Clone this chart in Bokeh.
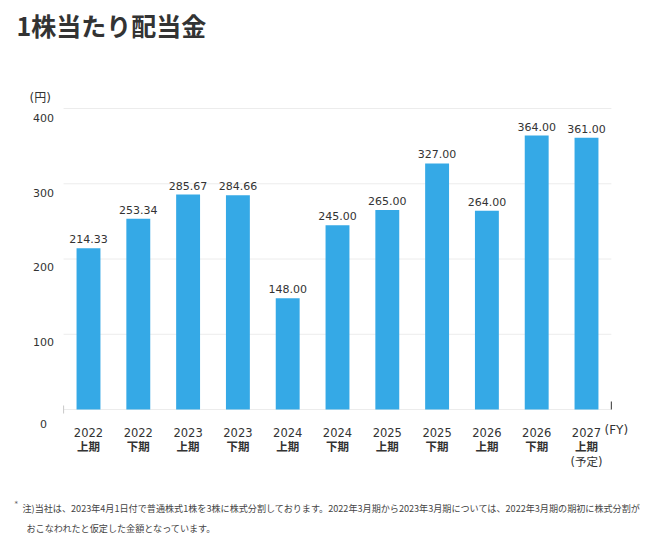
from bokeh.plotting import figure
from bokeh.models import Range1d, Label, ColumnDataSource
from bokeh.core.properties import value
from bokeh.embed import file_html
from bokeh.resources import INLINE

# Dividend per share (yen), by half-year period
years = ["2022", "2022", "2023", "2023", "2024", "2024", "2025", "2025", "2026", "2026", "2027"]
halves = ["上期", "下期", "上期", "下期", "上期", "下期", "上期", "下期", "上期", "下期", "上期"]
notes = ["", "", "", "", "", "", "", "", "", "", "(予定)"]
dividends = [214.33, 253.34, 285.67, 284.66, 148.00, 245.00, 265.00, 327.00, 264.00, 364.00, 361.00]
y_ticks = [0, 100, 200, 300, 400]

W, H = 669, 542
BAR_BLUE = "#35a9e6"
TEXT = "#333333"
LATIN = "DejaVu Sans, Noto Sans CJK JP"
CJK = "Noto Sans CJK JP"

n = len(dividends)
xs = list(range(n))

# The frame spans the whole canvas; ranges are chosen so that the
# plotting area sits between the heading and the footnote.
px_per_cat = 49.8
px_per_yen = 301 / 400
x0_px, y0_px = 88, 409
p = figure(
    width=W, height=H, output_backend="svg", toolbar_location=None,
    x_axis_location=None, y_axis_location=None,
    min_border=0, outline_line_color=None,
    x_range=Range1d(-x0_px / px_per_cat, (W - x0_px) / px_per_cat),
    y_range=Range1d(-(H - y0_px) / px_per_yen, y0_px / px_per_yen),
)
p.xgrid.visible = False
p.ygrid.visible = False
p.background_fill_color = "white"
p.border_fill_color = "white"

left_edge, right_edge = -0.5, n - 0.5

# horizontal gridlines
p.segment(x0=[left_edge] * len(y_ticks), x1=[right_edge] * len(y_ticks),
          y0=y_ticks, y1=y_ticks, line_color="#ececec", line_width=1)

src = ColumnDataSource(dict(
    x=xs, top=dividends, years=years, halves=halves, notes=notes,
    lbl=[f"{v:.2f}" for v in dividends],
))

p.vbar(x="x", top="top", bottom=0, width=0.48, source=src,
       fill_color=BAR_BLUE, line_color=None)

# value labels above the bars
p.text(x="x", y="top", text="lbl", source=src, text_align="center",
       text_baseline="middle", y_offset=-9, text_font=value(LATIN),
       text_font_size="11px", text_color=TEXT)

# category labels below the baseline
p.text(x="x", y=0, text="years", source=src, text_align="center",
       text_baseline="middle", y_offset=23, text_font=value(LATIN),
       text_font_size="11.5px", text_color=TEXT)
p.text(x="x", y=0, text="halves", source=src, text_align="center",
       text_baseline="middle", y_offset=36, text_font=value(CJK),
       text_font_size="11.5px", text_font_style="bold", text_color=TEXT)
p.text(x="x", y=0, text="notes", source=src, text_align="center",
       text_baseline="middle", y_offset=52, text_font=value(LATIN),
       text_font_size="11.5px", text_color=TEXT)

# y tick labels, set a little below their gridlines
tick_label_drop = [14, 8, 8, 9, 9]
p.text(x=[left_edge] * len(y_ticks), y=y_ticks, text=[str(t) for t in y_ticks],
       x_offset=-20, y_offset=tick_label_drop, text_align="center", text_baseline="middle",
       text_font=value(LATIN), text_font_size="11px", text_color=TEXT)

# axis end ticks
p.segment(x0=[left_edge], x1=[left_edge], y0=[4 / px_per_yen], y1=[-4 / px_per_yen],
          line_color="#c8c8c8", line_width=1)
p.segment(x0=[right_edge], x1=[right_edge], y0=[0], y1=[8 / px_per_yen],
          line_color="#555555", line_width=1.2)

def screen_label(text, x, y, size, font=LATIN, style="normal", color=TEXT):
    p.add_layout(Label(x=x, y=H - y, x_units="screen", y_units="screen", text=text,
                       text_font=font, text_font_size=size, text_font_style=style,
                       text_color=color, text_baseline="middle", text_align="left"))

screen_label("1株当たり配当金", 16, 24, "25px", font=CJK, style="bold")
screen_label("(円)", 29, 97, "12px")
screen_label("(FY)", 604, 429, "12px")
screen_label("*", 14, 503, "7px", color="#555555")
screen_label("注)当社は、2023年4月1日付で普通株式1株を3株に株式分割しております。2022年3月期から2023年3月期については、2022年3月期の期初に株式分割が",
             22, 507, "9.1px", font=CJK, color="#444444")
screen_label("おこなわれたと仮定した金額となっています。", 26, 527, "9.1px", font=CJK, color="#444444")

open("out.html", "w").write(file_html(p, INLINE))
